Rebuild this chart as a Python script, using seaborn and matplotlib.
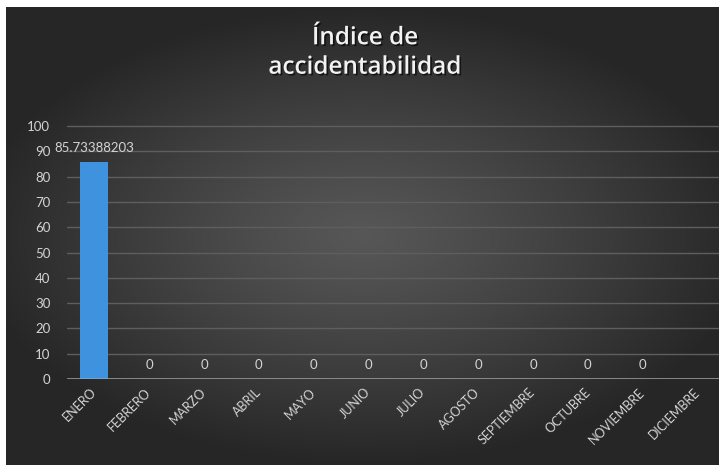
import numpy as np
import pandas as pd
import matplotlib
matplotlib.use("Agg")
import matplotlib.pyplot as plt
import matplotlib.patheffects as pe
import seaborn as sns

# Monthly accident index
meses = ["ENERO", "FEBRERO", "MARZO", "ABRIL", "MAYO", "JUNIO", "JULIO",
         "AGOSTO", "SEPTIEMBRE", "OCTUBRE", "NOVIEMBRE", "DICIEMBRE"]
indice = [85.73388203, 0, 0, 0, 0, 0, 0, 0, 0, 0, 0, np.nan]
y_ticks = [0, 10, 20, 30, 40, 50, 60, 70, 80, 90, 100]
titulo = "Índice de\naccidentabilidad"

df = pd.DataFrame({"mes": meses, "indice": indice})

sns.set_theme(style="dark")
plt.rcParams["font.family"] = ["Lato", "DejaVu Sans"]

W, H = 719, 465
fig = plt.figure(figsize=(W / 100, H / 100), dpi=100, facecolor="white")

# radial dark-grey backdrop
bg = fig.add_axes([6 / W, 0, (W - 6) / W, (H - 7) / H])
gx, gy = np.meshgrid(np.linspace(-1, 1, 400), np.linspace(-1, 1, 260))
r = np.sqrt((gx * 1.0) ** 2 + (gy * 1.1) ** 2)
shade = np.clip(0.34 - 0.17 * r ** 1.2, 0.15, 0.34)
bg.imshow(np.dstack([shade] * 3), aspect="auto", extent=[0, 1, 0, 1],
          interpolation="bicubic")
bg.set_axis_off()

ax = fig.add_axes([67 / W, 86 / H, 658 / W, 255.5 / H])
ax.patch.set_alpha(0)

sns.barplot(data=df, x="mes", y="indice", order=meses, color="#3f93de",
            saturation=1, width=0.51, ax=ax, zorder=3,
            edgecolor="none", linewidth=0)

ax.set_ylim(0, 101)
ax.set_yticks(y_ticks)
ax.set_xlabel("")
ax.set_ylabel("")
ax.grid(axis="y", color="#5e5e5e", linewidth=1.0, zorder=0)
ax.grid(axis="x", visible=False)
for s in ax.spines.values():
    s.set_visible(False)
ax.axhline(0, color="#a0a0a0", linewidth=1.8, zorder=4)

ax.tick_params(axis="y", length=0, pad=12, labelsize=9.5, labelcolor="#d4d4d4")
ax.tick_params(axis="x", length=0, pad=8, labelsize=9, labelcolor="#d4d4d4")
plt.setp(ax.get_xticklabels(), rotation=45, ha="right", va="center",
         rotation_mode="anchor")

for cont in ax.containers:
    vals = [b.get_height() for b in cont]
    labels = ["" if np.isnan(v) else f"{v:.10g}" for v in vals]
    ax.bar_label(cont, labels=labels, padding=6, fontsize=9.5, color="#d4d4d4")

fig.text(365 / W, 1 - 53 / H, titulo, ha="center", va="center",
         fontsize=17.5, fontweight="semibold", color="#f2f2f2", linespacing=1.3,
         family=["Open Sans", "DejaVu Sans"],
         path_effects=[pe.withSimplePatchShadow(offset=(1.2, -1.2),
                                                shadow_rgbFace="black",
                                                alpha=0.6)])

fig.savefig("out.png", dpi=100, facecolor="white")
